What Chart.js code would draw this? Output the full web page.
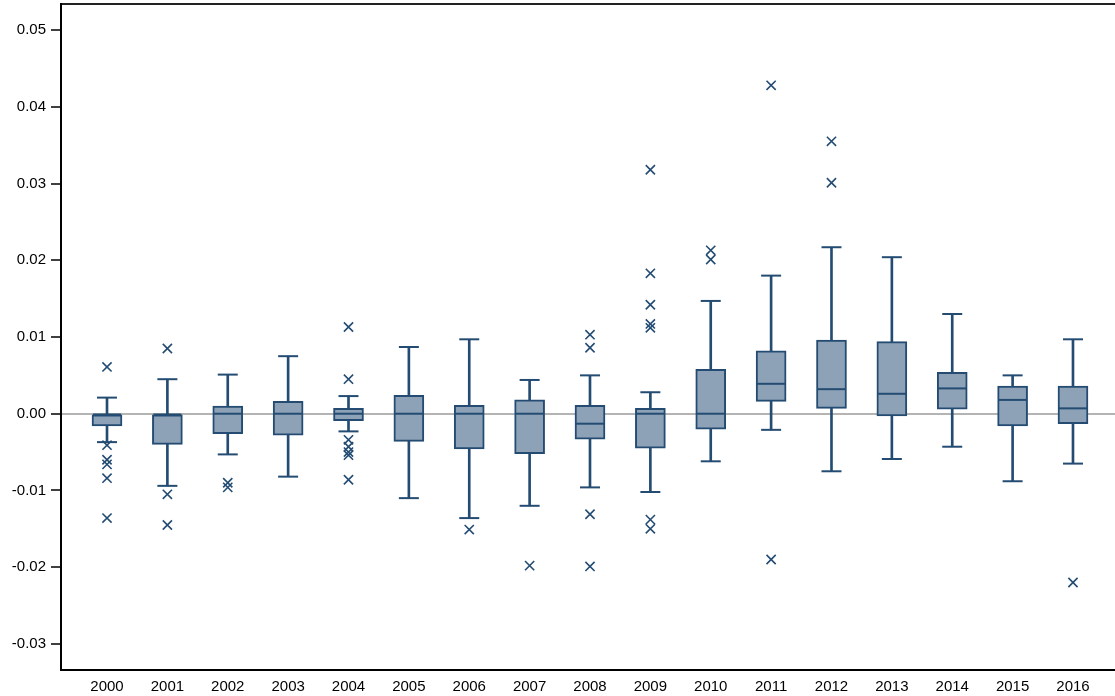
<!DOCTYPE html>
<html>
<head>
<meta charset="utf-8">
<script src="https://cdn.jsdelivr.net/npm/chart.js@4.4.1/dist/chart.umd.min.js"></script>
<style>
  html, body { margin: 0; padding: 0; background: #fff; }
  #wrap { width: 1115px; height: 696px; }
</style>
</head>
<body>
<div id="wrap"><canvas id="c" width="1115" height="696"></canvas></div>
<script>
const categories = ['2000','2001','2002','2003','2004','2005','2006','2007','2008','2009','2010','2011','2012','2013','2014','2015','2016'];
const whiskerLow  = [-0.0037,-0.0094,-0.0053,-0.0082,-0.0023,-0.0110,-0.0136,-0.0120,-0.0096,-0.0102,-0.0062,-0.0021,-0.0075,-0.0059,-0.0043,-0.0088,-0.0065];
const q1          = [-0.0016,-0.0040,-0.0026,-0.0028,-0.0009,-0.0036,-0.0046,-0.0052,-0.0033,-0.0045,-0.0020, 0.0016, 0.0007,-0.0003, 0.0006,-0.0016,-0.0013];
const medians     = [-0.0001,-0.0001, 0.0000, 0.0000, 0.0000, 0.0000, 0.0000, 0.0000,-0.0013, 0.0000, 0.0000, 0.0039, 0.0032, 0.0026, 0.0033, 0.0018, 0.0007];
const q3          = [ 0.0000, 0.0000, 0.0010, 0.0016, 0.0007, 0.0024, 0.0011, 0.0018, 0.0011, 0.0007, 0.0058, 0.0082, 0.0096, 0.0094, 0.0054, 0.0036, 0.0036];
const whiskerHigh = [ 0.0021, 0.0045, 0.0051, 0.0075, 0.0023, 0.0087, 0.0097, 0.0044, 0.0050, 0.0028, 0.0147, 0.0180, 0.0217, 0.0204, 0.0130, 0.0050, 0.0097];
const outliers = [
  [0.0061,-0.0041,-0.0060,-0.0066,-0.0084,-0.0136],
  [0.0085,-0.0105,-0.0145],
  [-0.0090,-0.0096],
  [],
  [0.0113,0.0045,-0.0034,-0.0043,-0.0050,-0.0054,-0.0086],
  [],
  [-0.0151],
  [-0.0198],
  [0.0103,0.0086,-0.0131,-0.0199],
  [0.0318,0.0183,0.0142,0.0117,0.0112,-0.0138,-0.0150],
  [0.0213,0.0201],
  [0.0428,-0.0190],
  [0.0355,0.0301],
  [],
  [],
  [],
  [-0.0220]
];
const yTicks = [-0.03,-0.02,-0.01,0,0.01,0.02,0.03,0.04,0.05];

const boxFill = '#8da2b7';
const dark = '#244c73';

const idx = categories.map((c, i) => i);
const boxData = idx.map(i => ({x: i, y: [q1[i], q3[i]]}));
const whiskerData = idx.map(i => ({x: i, y: [whiskerLow[i], whiskerHigh[i]]}));
const capData = idx.flatMap(i => [{x: i, y: whiskerLow[i]}, {x: i, y: whiskerHigh[i]}]);
const medData = idx.map(i => ({x: i, y: medians[i]}));
const outData = idx.flatMap(i => outliers[i].map(v => ({x: i, y: v})));

function noPad(s) { s.paddingTop = 0; s.paddingBottom = 0; s.paddingLeft = 0; s.paddingRight = 0; }

new Chart(document.getElementById('c'), {
  type: 'bar',
  data: {
    datasets: [
      { type: 'bar', data: whiskerData, backgroundColor: dark, borderWidth: 0, barThickness: 2, grouped: false, order: 4 },
      { type: 'bar', data: boxData, backgroundColor: boxFill, borderColor: dark, borderWidth: 2, borderSkipped: false, barThickness: 30, grouped: false, order: 3 },
      { type: 'line', data: capData, showLine: false, pointStyle: 'line', pointRadius: 10, pointBorderWidth: 2, borderColor: dark, pointBorderColor: dark, order: 2 },
      { type: 'line', data: medData, showLine: false, pointStyle: 'line', pointRadius: 14, pointBorderWidth: 2, borderColor: dark, pointBorderColor: dark, order: 1 },
      { type: 'line', data: outData, showLine: false, pointStyle: 'crossRot', pointRadius: 6.5, pointBorderWidth: 1.6, borderColor: dark, pointBorderColor: dark, order: 0 }
    ]
  },
  options: {
    responsive: false,
    animation: false,
    events: [],
    layout: { padding: 0, autoPadding: false },
    plugins: { legend: { display: false }, tooltip: { enabled: false } },
    scales: {
      x: {
        type: 'linear',
        position: 'bottom',
        offset: false,
        min: -0.762,
        max: 16.696,
        afterBuildTicks: s => { s.ticks = idx.map(v => ({value: v})); },
        afterFit: s => { s.height = 26; noPad(s); },
        grid: { display: false, drawTicks: false },
        border: { display: true, color: '#000', width: 2 },
        ticks: {
          autoSkip: false, maxRotation: 0, padding: 8,
          color: '#000',
          font: { family: 'Liberation Sans, Arial, sans-serif', size: 15 },
          callback: v => categories[v]
        }
      },
      xTop: {
        type: 'linear',
        position: 'top',
        offset: false,
        min: -0.762,
        max: 16.696,
        afterFit: s => { s.height = 4; noPad(s); },
        grid: { display: false, drawTicks: false },
        border: { display: true, color: '#222', width: 2 },
        ticks: { display: false }
      },
      y: {
        type: 'linear',
        min: -0.0334,
        max: 0.0534,
        afterBuildTicks: s => { s.ticks = yTicks.map(v => ({value: v})); },
        afterFit: s => { s.width = 61; noPad(s); },
        grid: {
          drawOnChartArea: true,
          drawTicks: true,
          tickLength: 10,
          tickColor: '#000',
          tickWidth: 1.5,
          color: c => (c.tick && c.tick.value === 0) ? '#b4b4b4' : 'rgba(0,0,0,0)',
          lineWidth: c => (c.tick && c.tick.value === 0) ? 2 : 0
        },
        border: { display: true, color: '#000', width: 2 },
        ticks: {
          padding: 5,
          color: '#000',
          font: { family: 'Liberation Sans, Arial, sans-serif', size: 15 },
          callback: v => Number(v).toFixed(2)
        }
      }
    }
  }
});
</script>
</body>
</html>
